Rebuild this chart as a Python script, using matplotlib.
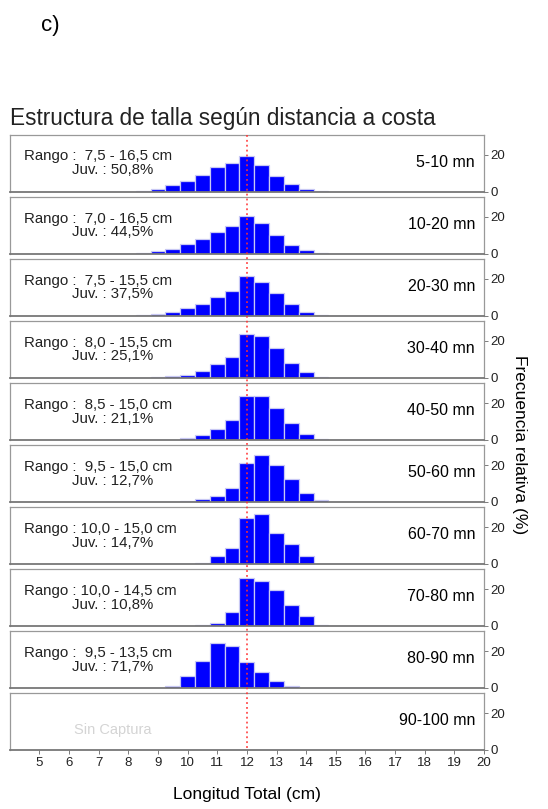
import matplotlib
matplotlib.use("Agg")
import matplotlib.pyplot as plt
from matplotlib.lines import Line2D
from matplotlib.transforms import blended_transform_factory

plt.rcParams['font.family'] = ['Liberation Sans', 'DejaVu Sans']

W, H = 548, 809          # tamaño en px

# clases de talla (cm), marca de clase cada 0,5 cm
tallas = [7.5, 8.0, 8.5, 9.0, 9.5, 10.0, 10.5, 11.0, 11.5, 12.0,
          12.5, 13.0, 13.5, 14.0, 14.5, 15.0, 15.5, 16.0, 16.5]

zonas = ["5-10 mn", "10-20 mn", "20-30 mn", "30-40 mn", "40-50 mn",
         "50-60 mn", "60-70 mn", "70-80 mn", "80-90 mn", "90-100 mn"]

rangos = ["Rango :  7,5 - 16,5 cm", "Rango :  7,0 - 16,5 cm", "Rango :  7,5 - 15,5 cm",
          "Rango :  8,0 - 15,5 cm", "Rango :  8,5 - 15,0 cm", "Rango :  9,5 - 15,0 cm",
          "Rango : 10,0 - 15,0 cm", "Rango : 10,0 - 14,5 cm", "Rango :  9,5 - 13,5 cm", ""]

juveniles = ["Juv. : 50,8%", "Juv. : 44,5%", "Juv. : 37,5%", "Juv. : 25,1%", "Juv. : 21,1%",
             "Juv. : 12,7%", "Juv. : 14,7%", "Juv. : 10,8%", "Juv. : 71,7%", ""]

# frecuencia relativa (%) por clase de talla
f_5_10   = [0, 0, 0.1, 1.5, 3.3, 5.8, 9.1, 13.1, 15.5, 19.5, 14.5, 8.2, 4.0, 1.1, 0.1, 0, 0, 0, 0]
f_10_20  = [0, 0, 0.2, 1.2, 2.6, 5.2, 7.9, 11.6, 14.9, 20.4, 16.6, 10.2, 4.8, 1.8, 0.3, 0, 0, 0, 0]
f_20_30  = [0, 0, 0.1, 0.9, 1.8, 4.0, 6.2, 10.0, 13.5, 21.6, 18.4, 12.2, 6.4, 2.2, 0.3, 0, 0, 0, 0]
f_30_40  = [0, 0, 0, 0.1, 0.7, 1.6, 3.6, 7.3, 11.5, 23.6, 22.5, 16.4, 8.2, 2.9, 0.5, 0, 0, 0, 0]
f_40_50  = [0, 0, 0, 0, 0.1, 0.7, 2.7, 6.0, 10.9, 23.6, 23.6, 17.3, 9.3, 3.3, 0.5, 0, 0, 0, 0]
f_50_60  = [0, 0, 0, 0, 0.1, 0.3, 1.3, 3.3, 7.6, 21.3, 25.6, 20.0, 12.4, 4.9, 1.2, 0, 0, 0, 0]
f_60_70  = [0, 0, 0, 0, 0, 0.1, 0.7, 4.5, 8.5, 24.9, 26.9, 16.7, 10.9, 4.2, 0.1, 0, 0, 0, 0]
f_70_80  = [0, 0, 0, 0, 0, 0.1, 0.4, 1.8, 7.3, 26.2, 24.4, 19.8, 11.3, 5.3, 0.3, 0, 0, 0, 0]
f_80_90  = [0, 0, 0, 0, 1.3, 6.5, 14.7, 24.7, 22.7, 14.2, 8.5, 3.5, 1.1, 0, 0, 0, 0, 0, 0]
f_90_100 = [0] * len(tallas)

frecuencias = [f_5_10, f_10_20, f_20_30, f_30_40, f_40_50,
               f_50_60, f_60_70, f_70_80, f_80_90, f_90_100]

x_ticks = list(range(5, 21))
talla_ref = 12

fig = plt.figure(figsize=(W / 100, H / 100), dpi=100)

left, right = 9.8, 484.0
top0, pitch, alto = 135.0, 62.05, 56.5

axes = []
for i, f in enumerate(frecuencias):
    top = top0 + i * pitch
    ax = fig.add_axes([left / W, 1 - (top + alto) / H, (right - left) / W, alto / H])
    ax.bar(tallas, f, width=0.5, color='#0000ff', edgecolor='#c8c8f4', linewidth=0.9)
    ax.set_xlim(4, 20)
    ax.set_ylim(0, 30.8)
    ax.yaxis.tick_right()
    ax.set_yticks([0, 20])
    ax.tick_params(axis='y', labelsize=9.5, length=3, width=0.6, color='#666666',
                   labelcolor='#222222', pad=1.5)
    for s in ax.spines.values():
        s.set_color('#999999')
        s.set_linewidth(0.9)
    ax.spines['bottom'].set_color('#777777')
    ax.spines['bottom'].set_linewidth(1.3)
    trf = blended_transform_factory(ax.transData, ax.transAxes)
    ax.text(19.7, 0.52, zonas[i], ha='right', va='center', fontsize=11.5, transform=trf)
    if rangos[i]:
        ax.text(4.48, 0.62, rangos[i], ha='left', va='center', fontsize=10.8,
                color='#222222', transform=trf)
        ax.text(6.09, 0.375, juveniles[i], ha='left', va='center', fontsize=10.8,
                color='#222222', transform=trf)
    if i < len(frecuencias) - 1:
        ax.set_xticks([])
    else:
        ax.set_xticks(x_ticks)
        ax.tick_params(axis='x', labelsize=9.5, length=3, width=0.6, color='#666666',
                       labelcolor='#222222', pad=2)
        ax.text(7.47, 0.36, "Sin Captura", color='#d4d4d4', ha='center', va='center',
                fontsize=10.5, transform=trf)
    axes.append(ax)

# línea de referencia (12 cm) a través de todos los paneles
tr = blended_transform_factory(axes[0].transData, fig.transFigure)
fig.add_artist(Line2D([talla_ref, talla_ref], [1 - top0 / H, 1 - (top0 + 9 * pitch + alto) / H],
                      transform=tr, color='#ff3030', linestyle=(0, (1.2, 2)), linewidth=1.1,
                      zorder=5))

fig.text(50 / W, 1 - 25 / H, "c)", fontsize=16, ha='center', va='center')
fig.text(10.5 / W, 1 - 119 / H, "Estructura de talla según distancia a costa",
         fontsize=16.3, ha='left', va='center', color='#222222')
fig.text(247 / W, 1 - 795 / H, "Longitud Total (cm)", fontsize=12.5, ha='center', va='center')
fig.text(519 / W, 1 - 445 / H, "Frecuencia relativa (%)", fontsize=12.5, rotation=-90,
         ha='center', va='center')

fig.savefig("out.png", dpi=100)
